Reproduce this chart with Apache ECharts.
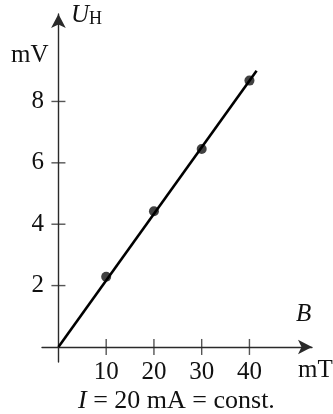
<!DOCTYPE html>
<html><head><meta charset="utf-8">
<script src="https://cdn.jsdelivr.net/npm/echarts@6/dist/echarts.min.js"></script>
<style>html,body{margin:0;padding:0;background:#fff}#c{width:333px;height:414px}</style>
</head><body><div id="c"></div>
<script>
const bTicks = [10, 20, 30, 40];
const uTicks = [2, 4, 6, 8];
const pointsB = [10, 20, 30, 40];
const pointsU = [2.29, 4.42, 6.45, 8.68];
const fitB = [0, 41.5];
const fitU = [0, 9.0];

const FONT = 'Liberation Serif';
const AXC = '#2a2a2a';
const FS = 25;
const chart = echarts.init(document.getElementById('c'), null, {renderer: 'canvas'});
chart.setOption({
  animation: false,
  grid: {left: 42, top: 14, width: 270, height: 348, containLabel: false},
  xAxis: {
    type: 'value', min: -3.44, max: 53.1, splitLine: {show: false},
    axisLine: {onZero: true, lineStyle: {color: AXC, width: 1.4}, symbol: ['none', 'arrow'], symbolSize: [11, 14]},
    axisTick: {show: false},
    axisLabel: {show: true, customValues: bTicks, margin: -2, color: '#111', fontFamily: FONT, fontSize: FS}
  },
  yAxis: {
    type: 'value', min: -0.49, max: 10.85, splitLine: {show: false},
    axisLine: {onZero: true, lineStyle: {color: AXC, width: 1.4}, symbol: ['none', 'arrow'], symbolSize: [11, 14]},
    axisTick: {show: false},
    axisLabel: {show: true, customValues: uTicks, margin: -2, color: '#111', fontFamily: FONT, fontSize: FS}
  },
  series: [
    {
      type: 'scatter', silent: true,
      data: bTicks.map(b => [b, 0]),
      symbol: 'rect', symbolSize: [1.4, 16], itemStyle: {color: AXC}
    },
    {
      type: 'scatter', silent: true,
      data: uTicks.map(u => [0, u]),
      symbol: 'rect', symbolSize: [14, 1.4], itemStyle: {color: AXC}
    },
    {
      type: 'line',
      data: fitB.map((b, i) => [b, fitU[i]]),
      symbol: 'none', lineStyle: {color: '#000', width: 2.6}
    },
    {
      type: 'scatter',
      data: pointsB.map((b, i) => [b, pointsU[i]]),
      symbol: 'circle', symbolSize: 10, itemStyle: {color: '#111'}
    }
  ],
  graphic: [
    {type: 'text', left: 71, top: 3, style: {
      text: '{u|U}{h|H}', fill: '#111',
      rich: {u: {fontFamily: FONT, fontStyle: 'italic', fontSize: FS, fill: '#111'},
             h: {fontFamily: FONT, fontSize: 18, fill: '#111', verticalAlign: 'bottom'}}
    }},
    {type: 'text', left: 11, top: 43, style: {text: 'mV', font: FS + 'px "Liberation Serif"', fill: '#111'}},
    {type: 'text', left: 296, top: 302, style: {text: 'B', font: 'italic ' + FS + 'px "Liberation Serif"', fill: '#111'}},
    {type: 'text', left: 298, top: 358, style: {text: 'mT', font: FS + 'px "Liberation Serif"', fill: '#111'}},
    {type: 'text', left: 78, top: 388, style: {
      text: '{i|I}{n| = 20 mA = const.}', fill: '#111',
      rich: {i: {fontFamily: FONT, fontStyle: 'italic', fontSize: 26, fill: '#111'},
             n: {fontFamily: FONT, fontSize: 26, fill: '#111'}}
    }}
  ]
});
</script></body></html>
